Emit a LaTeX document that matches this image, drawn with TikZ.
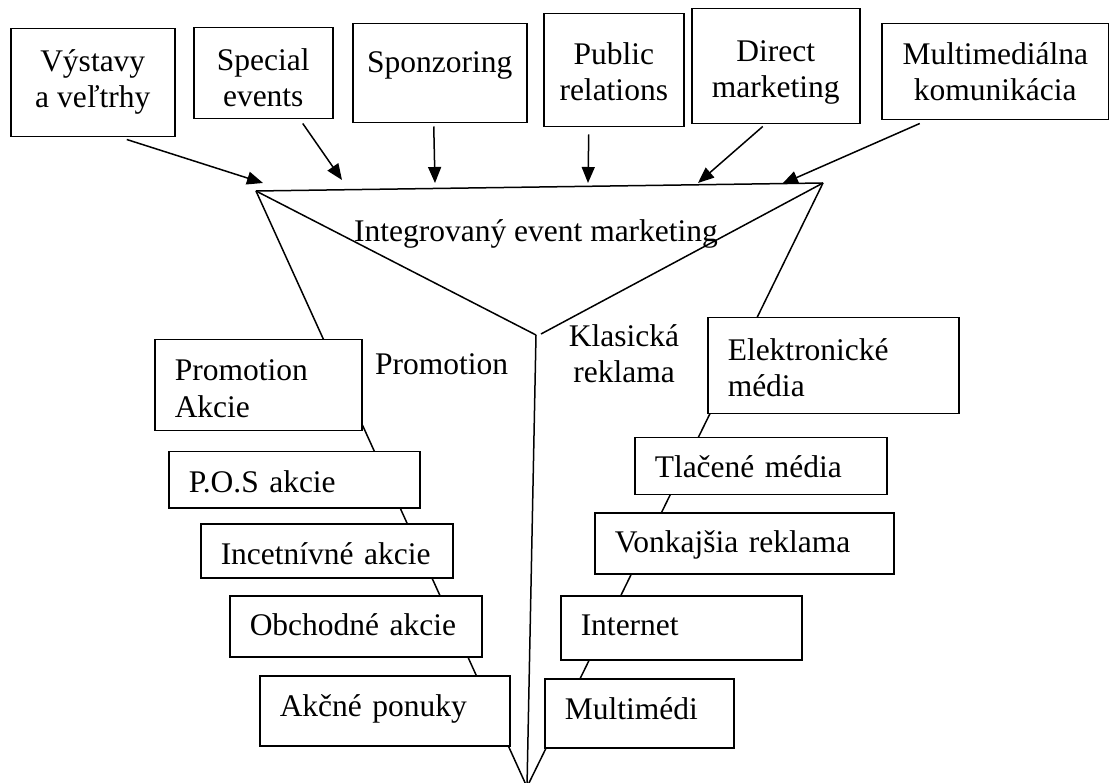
\documentclass[tikz,border=0pt]{standalone}
\usepackage{fontspec}
\setmainfont{Liberation Serif}
\usetikzlibrary{arrows.meta}
\begin{document}
\begin{tikzpicture}[x=1pt,y=-1pt,
  font=\fontsize{31.5}{36.5}\selectfont,
  line/.style={line width=1.5pt},
  box/.style={draw, fill=white, line width=1.5pt, inner sep=0pt,
    anchor=north west, text height=30pt},
  twoline/.style={text height=70pt},
  cbox/.style={box, align=center},
  lbox/.style={box, align=left, inner xsep=20pt},
  arr/.style={line width=1.5pt, -{Triangle[length=16pt,width=13pt]}},
  lbl/.style={inner sep=0pt}]
\useasboundingbox (0,0) rectangle (1109,783);
\fill[white] (0,0) rectangle (1109,783);

% funnel corners
\coordinate (tl) at (256,191);
\coordinate (tr) at (823,183);
\coordinate (vl) at (536,335);
\coordinate (vr) at (541,334);
\coordinate (tip) at (527,787);

% funnel outline
\draw[line] (tl) -- (tr);
\draw[line] (tl) -- (tip);
\draw[line] (tr) -- (tip);
\draw[line] (tl) -- (vl);
\draw[line] (tr) -- (vr);
\draw[line] (vl) -- (tip);

% entry points on the rim
\coordinate (in1) at (263,183);
\coordinate (in2) at (342,180);
\coordinate (in3) at (435,183);
\coordinate (in4) at (588,183);
\coordinate (in5) at (698,183);
\coordinate (in6) at (782,184);

% top row of instruments
\node[cbox, twoline, minimum width=164pt, minimum height=108pt, text depth=20pt] (vystavy) at (10,28) {Výstavy\\a veľtrhy};
\node[cbox, twoline, minimum width=139pt, minimum height=91pt, text depth=3pt] (special) at (193,27) {Special\\events};
\node[cbox, minimum width=174pt, minimum height=99pt, text depth=31pt] (sponz) at (352,23) {Sponzoring};
\node[cbox, twoline, minimum width=140pt, minimum height=113pt, text depth=9pt] (pr) at (543,13) {Public\\relations};
\node[cbox, twoline, minimum width=168pt, minimum height=115pt, text depth=7pt] (direct) at (691,8) {Direct\\marketing};
\node[cbox, twoline, minimum width=227pt, minimum height=96pt, text depth=12pt] (multi) at (881,23) {Multimediálna\\komunikácia};

% arrows into the funnel
\draw[arr] ([xshift=34pt,yshift=-2pt]vystavy.south) -- (in1);
\draw[arr] ([xshift=39.5pt,yshift=-4pt]special.south) -- (in2);
\draw[arr] ([xshift=-6pt,yshift=-3pt]sponz.south) -- (in3);
\draw[arr] ([xshift=-25pt,yshift=-7pt]pr.south) -- (in4);
\draw[arr] ([xshift=-13pt,yshift=-2pt]direct.south) -- (in5);
\draw[arr] ([xshift=-75.5pt,yshift=-3pt]multi.south) -- (in6);

% promotion branch
\node[lbox, minimum width=207pt, minimum height=91pt, text width=167pt, text depth=39pt] (promo) at (154,339) {Promotion\\Akcie};
\node[lbox, minimum width=251pt, minimum height=56pt, text width=211pt, text depth=5pt] (pos) at (168,451) {P.O.S akcie};
\node[lbox, minimum width=252pt, minimum height=54pt, text width=212pt, text depth=3pt] (incet) at (200,523) {Incetnívné akcie};
\node[lbox, minimum width=252pt, minimum height=61pt, text width=212pt, text depth=11pt] (obch) at (229,595) {Obchodné akcie};
\node[lbox, minimum width=250pt, minimum height=70pt, text width=210pt, text depth=18pt] (akcne) at (259,675) {Akčné ponuky};

% classic advertising branch
\node[lbox, minimum width=251pt, minimum height=96pt, text width=211pt, text depth=41pt] (elek) at (707,317) {Elektronické\\média};
\node[lbox, minimum width=252pt, minimum height=57pt, text width=212pt, text depth=8pt] (tlac) at (634,437) {Tlačené média};
\node[lbox, minimum width=299pt, minimum height=61pt, text width=259pt, text depth=12pt] (vonk) at (594,512) {Vonkajšia reklama};
\node[lbox, minimum width=241pt, minimum height=64pt, text width=201pt, text depth=14pt] (inet) at (560,595) {Internet};
\node[lbox, minimum width=189pt, minimum height=69pt, text width=149pt, text depth=18pt] (mmed) at (544,678) {Multimédi};

% section labels
\node[lbl, anchor=base] (iem) at (536,242) {Integrovaný event marketing};
\node[lbl, anchor=base west] (promlbl) at (375,375) {Promotion};
\node[lbl, anchor=base, align=center] (klas) at (624,383) {Klasická\\reklama};
\end{tikzpicture}
\end{document}
